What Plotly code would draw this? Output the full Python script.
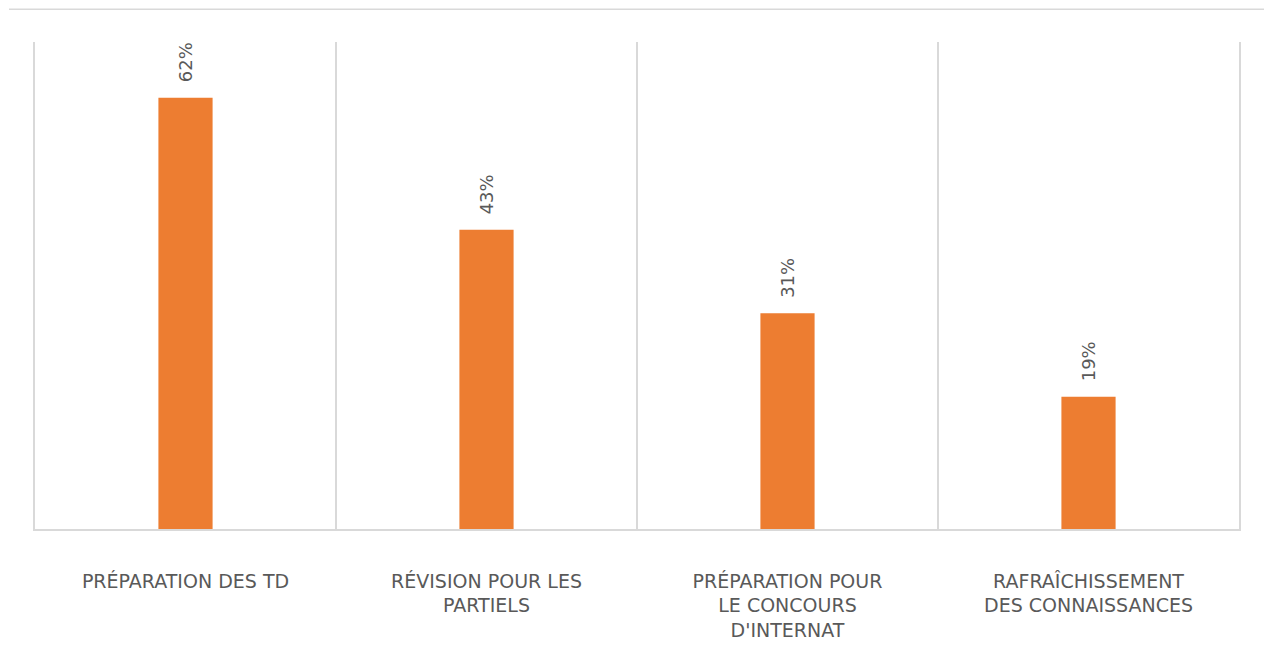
import plotly.graph_objects as go

categories = [
    "PRÉPARATION DES TD",
    "RÉVISION POUR LES<br>PARTIELS",
    "PRÉPARATION POUR<br>LE CONCOURS<br>D'INTERNAT",
    "RAFRAÎCHISSEMENT<br>DES CONNAISSANCES",
]
values = [62, 43, 31, 19]
labels = ["62%", "43%", "31%", "19%"]

BAR = "#ED7D31"
GRID = "#D9D9D9"
TXT = "#595959"

fig = go.Figure()
fig.add_trace(go.Bar(
    x=categories, y=values, marker=dict(color=BAR, line=dict(width=0)),
    width=0.18, hoverinfo="skip", showlegend=False,
))

for c, v, t in zip(categories, values, labels):
    fig.add_annotation(
        x=c, y=v, text=t, showarrow=False, textangle=-90,
        yanchor="bottom", xanchor="center", yshift=13,
        font=dict(family="DejaVu Sans", size=18, color=TXT),
    )

fig.add_shape(type="line", xref="paper", yref="paper",
              x0=-0.0216, x1=1.03, y0=1.0675, y1=1.0675,
              line=dict(color=GRID, width=1.5))

fig.update_layout(
    width=1264, height=645,
    margin=dict(l=27, r=33, t=34, b=122),
    paper_bgcolor="white", plot_bgcolor="white",
    xaxis=dict(
        type="category", tickson="boundaries", showgrid=True, gridcolor=GRID, gridwidth=1.5,
        showline=True, linecolor=GRID, linewidth=1.5, mirror=False,
        ticks="", range=[-0.5, 3.5], ticklabelstandoff=34,
        tickfont=dict(family="DejaVu Sans", size=19, color=TXT),
    ),
    yaxis=dict(
        range=[0, 70], showgrid=False, zeroline=False, showticklabels=False,
        showline=True, linecolor=GRID, linewidth=1.5, mirror=True, ticks="",
    ),
)

fig.write_html("out.html")
